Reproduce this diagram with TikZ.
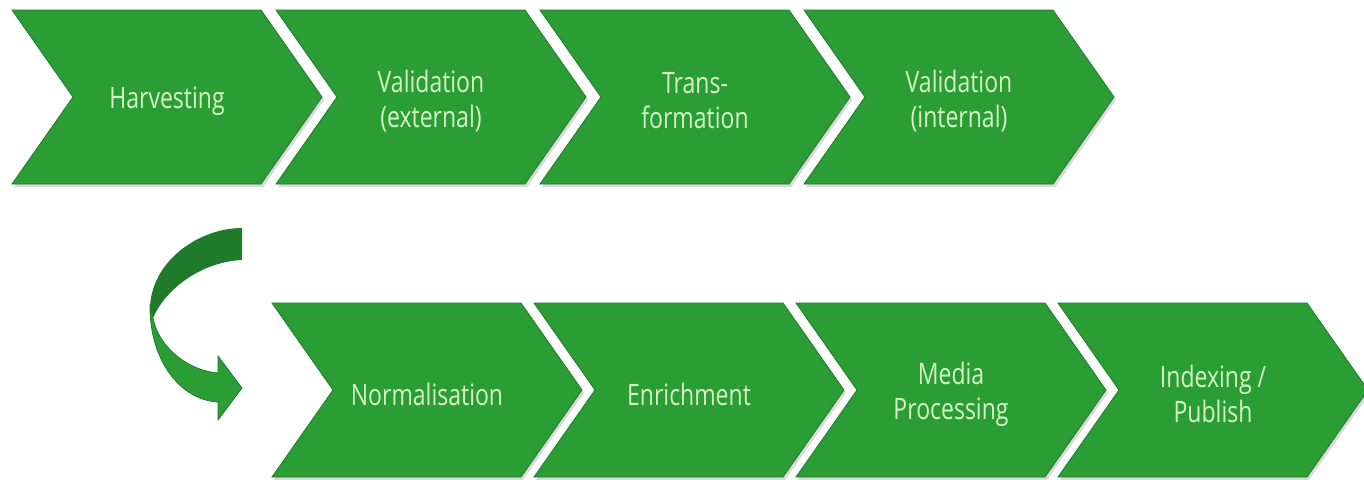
\documentclass[tikz,border=0pt]{standalone}
\usepackage{fontspec}
\setmainfont{Open Sans}[FakeStretch=0.78]
\usetikzlibrary{positioning,shadows,backgrounds}

\definecolor{stepgreen}{HTML}{2A9D35}
\definecolor{stepdark}{HTML}{1F7A29}
\definecolor{steptext}{HTML}{D5F5C5}

% chevron behind a named step node
\newcommand{\chevron}[1]{%
  \path[chev] (#1.center) ++(-155,-91) -- ++(249,0) -- ++(61,87) -- ++(-61,87) -- ++(-249,0) -- ++(61,-87) -- cycle;}

\begin{document}
\begin{tikzpicture}[x=1pt, y=-1pt, node distance=264pt,
    chev/.style={fill=stepgreen, draw=stepdark, line width=0.8pt,
      drop shadow={shadow xshift=2pt, shadow yshift=-3pt, opacity=0.3}},
    stepname/.style={text=steptext, align=center, font=\fontsize{29.5}{35}\selectfont}]
  \useasboundingbox (0,0) rectangle (1364,479);
  % top row
  \node[stepname] (harv) at (167,101) {Harvesting};
  \node[stepname] (valext) [right of=harv] {Validation\\(external)};
  \node[stepname] (trans) [right of=valext] {Trans-\\formation};
  \node[stepname] (valint) [right of=trans] {Validation\\(internal)};
  % bottom row
  \node[stepname] (norm) at (427,394) {Normalisation};
  \node[stepname, node distance=262pt] (enrich) [right of=norm] {Enrichment};
  \node[stepname, node distance=262pt] (media) [right of=enrich] {Media\\Processing};
  \node[stepname, node distance=262pt] (index) [right of=media] {Indexing /\\Publish};
  \begin{pgfonlayer}{background}
    \foreach \n in {harv,valext,trans,valint,norm,enrich,media,index} {\chevron{\n}}
    % curved arrow down to the second row
    \fill[stepdark] (242,228) .. controls (200,228) and (152,260) .. (150,307)
      -- (153,318) .. controls (165,290) and (200,262) .. (242,260) -- cycle;
    \filldraw[fill=stepgreen, draw=stepdark, line width=0.8pt] (150,307)
      .. controls (150,360) and (180,400) .. (218,402) -- (218,420) -- (242,388)
      -- (218,356) -- (218,373) .. controls (185,370) and (158,345) .. (153,318) -- cycle;
  \end{pgfonlayer}
\end{tikzpicture}
\end{document}
